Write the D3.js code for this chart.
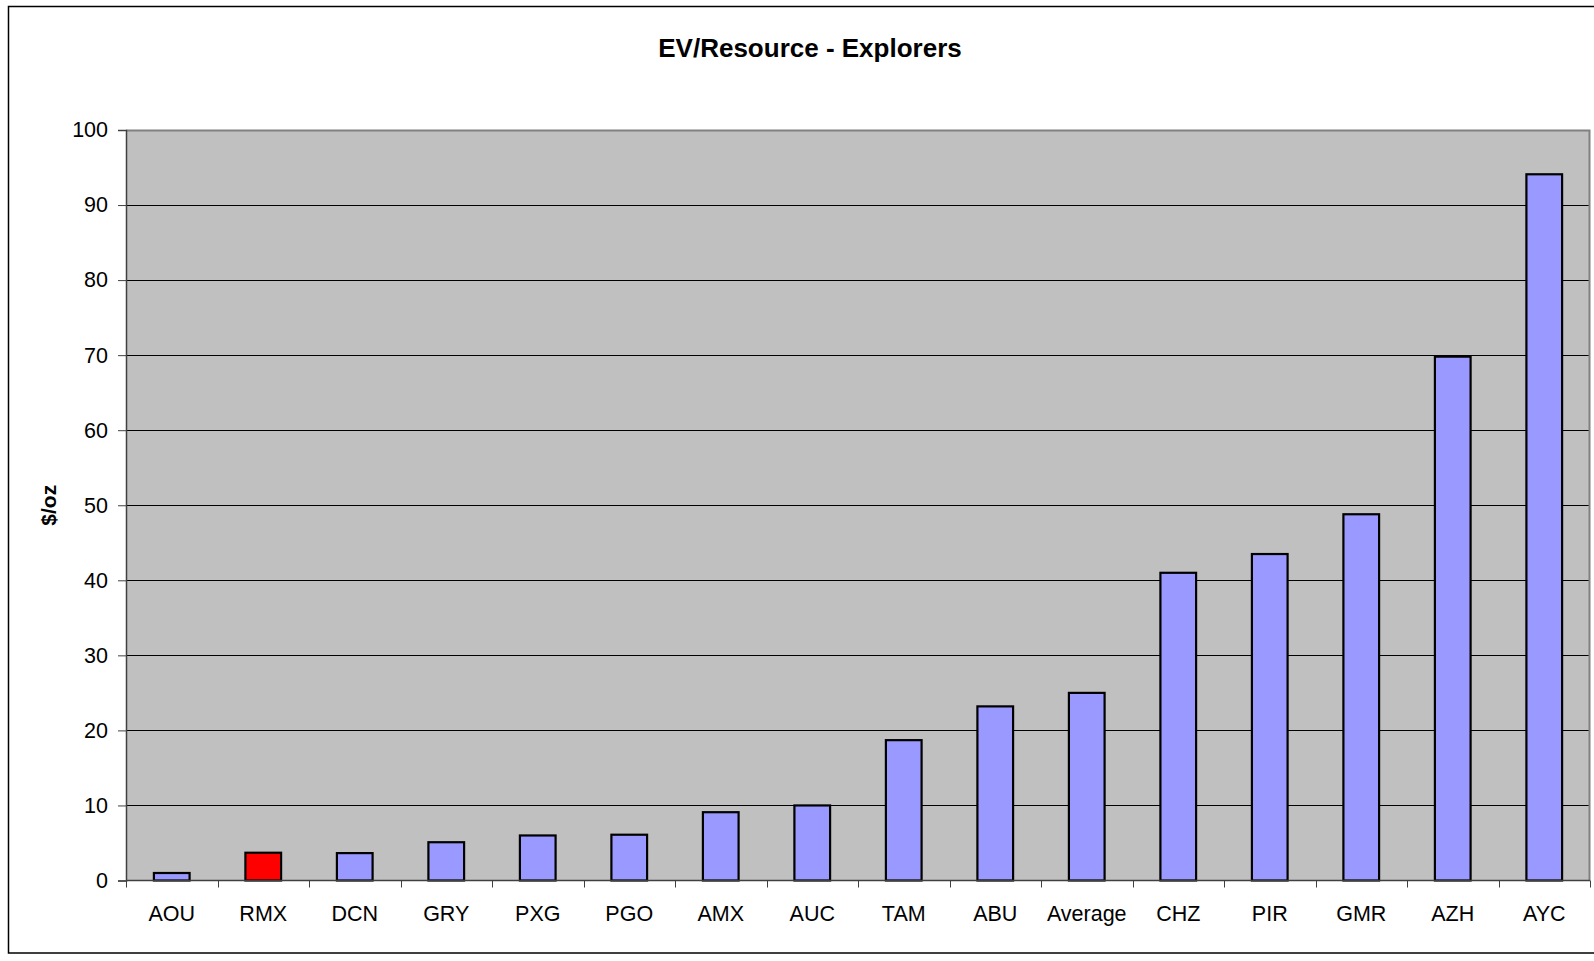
<!DOCTYPE html>
<html lang="en">
<head>
    <meta charset="UTF-8">
    <title>EV/Resource - Explorers</title>
    <script src="https://d3js.org/d3.v7.min.js"></script>
    <style>
        body { margin: 0; background: #fff; }
        text { font-family: Arial, "Liberation Sans", sans-serif; fill: #000; }
    </style>
</head>
<body>
    <div id="chart"></div>
    <script>
        // companies, sorted by EV per ounce
        const tickers = ["AOU", "RMX", "DCN", "GRY", "PXG", "PGO", "AMX", "AUC", "TAM", "ABU",
            "Average", "CHZ", "PIR", "GMR", "AZH", "AYC"];
        const evPerOz = [1.0, 3.7, 3.65, 5.1, 6.0, 6.1, 9.1, 10.0, 18.7, 23.2,
            25.0, 41.0, 43.5, 48.8, 69.8, 94.1];
        const highlighted = ["RMX"];
        const yTicks = [0, 10, 20, 30, 40, 50, 60, 70, 80, 90, 100];

        const W = 1594, H = 961;
        const margin = { top: 130, right: 4, bottom: 80.5, left: 126 };
        const width = W - margin.left - margin.right;
        const height = H - margin.top - margin.bottom;

        const svg = d3.select("#chart").append("svg")
            .attr("width", W)
            .attr("height", H);

        // outer chart frame (runs off the right edge)
        svg.append("rect")
            .attr("x", 8.5).attr("y", 6.5)
            .attr("width", W + 10).attr("height", 946.5)
            .attr("fill", "none")
            .attr("stroke", "#000")
            .attr("stroke-width", 1.5);

        svg.append("text")
            .attr("x", 810).attr("y", 57)
            .attr("text-anchor", "middle")
            .style("font-size", "26px")
            .style("font-weight", "bold")
            .text("EV/Resource - Explorers");

        const g = svg.append("g")
            .attr("transform", "translate(" + margin.left + "," + margin.top + ")");

        const x = d3.scaleBand().domain(tickers).range([0, width]).padding(0);
        const y = d3.scaleLinear().domain([0, 100]).range([height, 0]);

        // plot area
        g.append("rect")
            .attr("width", width).attr("height", height)
            .attr("fill", "#C0C0C0");

        // gridlines
        g.selectAll(".grid")
            .data(yTicks.slice(1, -1))
            .join("line")
            .attr("x1", 0).attr("x2", width)
            .attr("y1", d => Math.round(y(d)) + 0.5)
            .attr("y2", d => Math.round(y(d)) + 0.5)
            .attr("stroke", "#000")
            .attr("stroke-width", 1);

        // top and right border of plot area
        g.append("path")
            .attr("d", "M0," + 0.5 + "H" + (width - 0.5) + "V" + height)
            .attr("fill", "none")
            .attr("stroke", "#808080")
            .attr("stroke-width", 2);

        // bars
        const barW = x.bandwidth() * 0.39;
        g.selectAll(".bar")
            .data(tickers)
            .join("rect")
            .attr("class", "bar")
            .attr("x", d => x(d) + (x.bandwidth() - barW) / 2)
            .attr("y", (d, i) => y(evPerOz[i]))
            .attr("width", barW)
            .attr("height", (d, i) => height - y(evPerOz[i]))
            .attr("fill", d => highlighted.includes(d) ? "#FF0000" : "#9999FF")
            .attr("stroke", "#000")
            .attr("stroke-width", 2.2);

        // y axis
        const yAxis = g.append("g")
            .call(d3.axisLeft(y).tickValues(yTicks).tickSize(8).tickPadding(10));
        yAxis.select(".domain").attr("stroke", "#404040").attr("stroke-width", 1.5);
        yAxis.selectAll(".tick line").attr("stroke", "#404040");
        yAxis.selectAll(".tick text")
            .style("font-size", "21.5px")
            .style("font-family", "Arial, 'Liberation Sans', sans-serif");

        // x axis: ticks on category boundaries
        const xAxis = g.append("g")
            .attr("transform", "translate(0," + height + ")");
        xAxis.append("line")
            .attr("x1", 0).attr("x2", width)
            .attr("y1", 0).attr("y2", 0)
            .attr("stroke", "#404040").attr("stroke-width", 1.5);
        xAxis.selectAll(".xtick")
            .data(tickers.concat(["end"]))
            .join("line")
            .attr("x1", (d, i) => Math.round(i * x.step()) + 0.5)
            .attr("x2", (d, i) => Math.round(i * x.step()) + 0.5)
            .attr("y1", 0).attr("y2", 7)
            .attr("stroke", "#404040");
        xAxis.selectAll(".xlabel")
            .data(tickers)
            .join("text")
            .attr("x", d => x(d) + x.bandwidth() / 2)
            .attr("y", 40)
            .attr("text-anchor", "middle")
            .style("font-size", "21.5px")
            .text(d => d);

        // y axis title
        svg.append("text")
            .attr("transform", "translate(56," + (margin.top + height / 2) + ") rotate(-90)")
            .attr("text-anchor", "middle")
            .style("font-size", "21px")
            .style("font-weight", "bold")
            .text("$/oz");
    </script>
</body>
</html>
